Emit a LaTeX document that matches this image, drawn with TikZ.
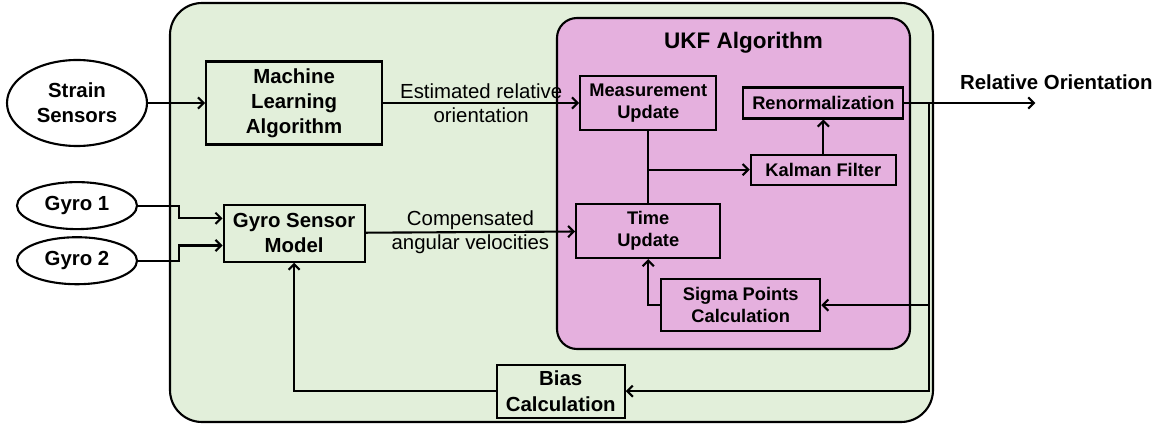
\documentclass[tikz,border=0pt]{standalone}
\usepackage{fontspec}
\setmainfont{Liberation Sans}
\usepackage{tikz}
\usetikzlibrary{shapes.geometric, arrows.meta, positioning}
\definecolor{outergreen}{RGB}{226,239,218}
\definecolor{ukfpink}{RGB}{229,176,222}
\tikzstyle{sensor} = [ellipse, draw=black, line width=1.5pt, fill=white, inner sep=0pt, align=center, font=\fontsize{14.5}{17.8}\selectfont\bfseries]
\tikzstyle{block} = [rectangle, draw=black, line width=1.5pt, fill=outergreen, inner sep=0pt, align=center, font=\fontsize{14.5}{17.8}\selectfont\bfseries]
\tikzstyle{ukfblock} = [rectangle, draw=black, line width=1.5pt, fill=ukfpink, inner sep=0pt, align=center, font=\fontsize{13}{15.5}\selectfont\bfseries]
\tikzstyle{container} = [rectangle, draw=black, line width=1.5pt]
\tikzstyle{arrow} = [line width=1.5pt, -{Straight Barb[length=1.4mm, width=2.8mm]}]
\tikzstyle{line} = [line width=1.5pt]
\tikzstyle{edgelabel} = [align=center, inner sep=0pt, font=\fontsize{14.5}{17}\selectfont]

\begin{document}
\begin{tikzpicture}
\useasboundingbox (0,0) rectangle (28.8,-10.625);

% Containers
\node (sys) [container, fill=outergreen, rounded corners=0.8cm, minimum width=19.075cm, minimum height=10.475cm] at (13.7875,-5.3125) {};
\node (ukf) [container, fill=ukfpink, rounded corners=0.5cm, minimum width=8.825cm, minimum height=8.275cm] at (18.3375,-4.5875) {};
\node (ukftitle) [below=0.25cm of ukf.north, xshift=0.25cm, font=\fontsize{16}{19}\selectfont\bfseries] {UKF Algorithm};

% Inputs
\node (strain) [sensor, minimum width=3.5cm, minimum height=2.15cm] at (1.925,-2.575) {Strain\\Sensors};
\node (gyro1) [sensor, minimum width=3cm, minimum height=1.175cm, below=0.85cm of strain] {Gyro 1};
\node (gyro2) [sensor, minimum width=3cm, minimum height=1.175cm, below=0.15cm of gyro1] {Gyro 2};

% Outer blocks
\node (ml) [block, minimum width=4.4cm, minimum height=2.075cm, right=1.425cm of strain] {Machine\\Learning\\Algorithm};
\node (gsm) [block, minimum width=3.525cm, minimum height=1.425cm, below=1.45cm of ml] {Gyro Sensor\\Model};
\node (bias) [block, minimum width=3.2cm, minimum height=1.325cm, below right=2.525cm and 3.25cm of gsm] {Bias\\Calculation};

% UKF blocks
\node (meas) [ukfblock, minimum width=3.4cm, minimum height=1.35cm, right=4.9cm of ml] {Measurement\\Update};
\node (renorm) [ukfblock, minimum width=4cm, minimum height=0.775cm, right=0.625cm of meas] {Renormalization};
\node (kalman) [ukfblock, minimum width=3.625cm, minimum height=0.75cm, below=0.85cm of renorm] {Kalman Filter};
\node (time) [ukfblock, minimum width=3.6cm, minimum height=1.35cm, below=1.8cm of meas] {Time\\Update};
\node (sigma) [ukfblock, minimum width=3.975cm, minimum height=1.3cm, below=0.475cm of time, xshift=2.3125cm] {Sigma Points\\Calculation};

% Output
\coordinate [right=0.625cm of renorm.east] (fb);
\coordinate [right=3.275cm of renorm.east] (out);
\node (outlbl) [above=0.2cm of out, xshift=0.525cm, font=\fontsize{14.5}{17.8}\selectfont\bfseries] {Relative Orientation};

% Arrows
\draw [arrow] (strain) -- (ml);
\draw [arrow] (ml) -- node[edgelabel] {Estimated relative\\orientation} (meas);
\draw [arrow] (gyro1.east) -- ++(1.025,0) |- ([yshift=0.37cm]gsm.west);
\draw [arrow] (gyro2.east) -- ++(1.025,0) |- ([yshift=-0.31cm]gsm.west);
\draw [arrow] (gsm) -- node[edgelabel] {Compensated\\angular velocities} (time);
\draw [line] (meas) -- (time);
\draw [arrow] (meas.south |- kalman) -- (kalman);
\draw [arrow] (kalman) -- (renorm);
\draw [arrow] (sigma.west) -| (time.south);
\draw [arrow] (renorm) -- (out);
\draw [arrow] (fb) |- (bias);
\draw [arrow] (fb |- sigma) -- (sigma);
\draw [arrow] (bias.west) -| (gsm.south);

\end{tikzpicture}
\end{document}
